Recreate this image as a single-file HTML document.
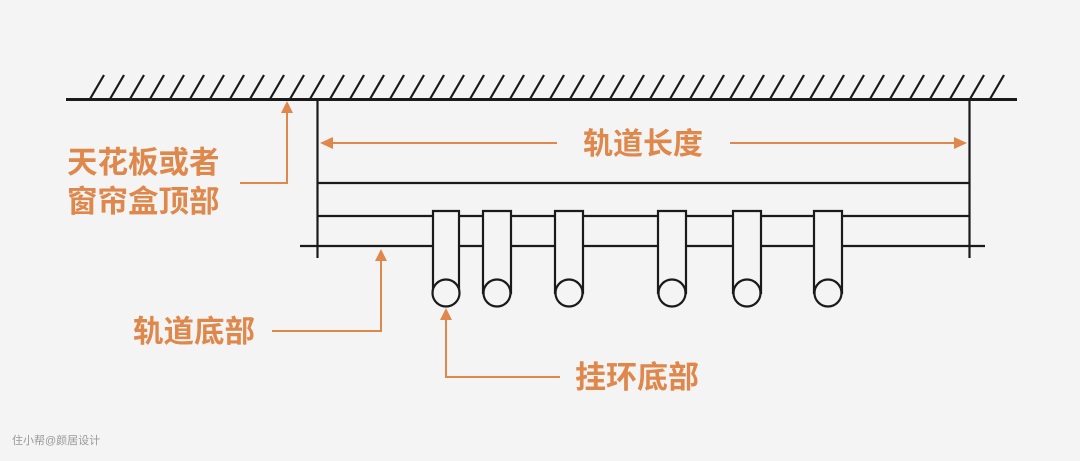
<!DOCTYPE html>
<html><head><meta charset="utf-8"><style>
body{margin:0;background:#f4f4f4;}
svg{display:block}
text{font-family:"Liberation Sans","Noto Sans CJK SC",sans-serif;font-weight:bold;fill:#e0874b}
</style></head><body>
<svg width="1080" height="461" viewBox="0 0 1080 461" xmlns="http://www.w3.org/2000/svg">
<rect width="1080" height="461" fill="#f4f4f4"/>
<g stroke="#1a1a1a" stroke-width="2.2" fill="none">
<line x1="66" y1="99.5" x2="1017" y2="99.5" stroke-width="3"/>
<path d="M90 99 L104 75 M110 99 L124 75 M130 99 L144 75 M150 99 L164 75 M170 99 L184 75 M190 99 L204 75 M210 99 L224 75 M230 99 L244 75 M250 99 L264 75 M270 99 L284 75 M290 99 L304 75 M310 99 L324 75 M330 99 L344 75 M350 99 L364 75 M370 99 L384 75 M390 99 L404 75 M410 99 L424 75 M430 99 L444 75 M450 99 L464 75 M470 99 L484 75 M490 99 L504 75 M510 99 L524 75 M530 99 L544 75 M550 99 L564 75 M570 99 L584 75 M590 99 L604 75 M610 99 L624 75 M630 99 L644 75 M650 99 L664 75 M670 99 L684 75 M690 99 L704 75 M710 99 L724 75 M730 99 L744 75 M750 99 L764 75 M770 99 L784 75 M790 99 L804 75 M810 99 L824 75 M830 99 L844 75 M850 99 L864 75 M870 99 L884 75 M890 99 L904 75 M910 99 L924 75 M930 99 L944 75 M950 99 L964 75 M970 99 L984 75 M990 99 L1004 75"/>
<line x1="317.5" y1="99" x2="317.5" y2="258"/>
<line x1="969.5" y1="99" x2="969.5" y2="258"/>
<line x1="318" y1="183" x2="969" y2="183"/>
<line x1="318" y1="216" x2="969" y2="216"/>
<line x1="300" y1="246" x2="985" y2="246"/>
</g>
<g stroke="#1a1a1a" stroke-width="2.2" fill="#f4f4f4">
<path d="M433 293 V211 H459 V293 Z"/><circle cx="446" cy="293" r="13.5"/>
<path d="M483 293 V211 H511 V293 Z"/><circle cx="497" cy="293" r="13.5"/>
<path d="M555 293 V211 H583 V293 Z"/><circle cx="569" cy="293" r="13.5"/>
<path d="M658 293 V211 H686 V293 Z"/><circle cx="672" cy="293" r="13.5"/>
<path d="M733 293 V211 H761 V293 Z"/><circle cx="747" cy="293" r="13.5"/>
<path d="M814 293 V211 H842 V293 Z"/><circle cx="828" cy="293" r="13.5"/>
</g>
<g stroke="#e0874b" stroke-width="2" fill="none">
<line x1="330" y1="143" x2="557" y2="143"/>
<line x1="730" y1="143" x2="956" y2="143"/>
<polyline points="240,183 287,183 287,112"/>
<polyline points="272,331 381,331 381,260"/>
<polyline points="446,318 446,377 560,377"/>
</g>
<g fill="#e0874b">
<polygon points="320,143 333,137 333,149"/>
<polygon points="967,143 954,137 954,149"/>
<polygon points="287,101 281,113 293,113"/>
<polygon points="381,249 375,261 387,261"/>
<polygon points="446,308 440,320 452,320"/>
</g>
<text x="643" y="154" font-size="30" text-anchor="middle">轨道长度</text>
<text x="67" y="173" font-size="30.5">天花板或者</text>
<text x="67" y="212" font-size="30.5">窗帘盒顶部</text>
<text x="133" y="342" font-size="30.5">轨道底部</text>
<text x="575" y="388" font-size="31">挂环底部</text>
<text x="12" y="444" font-size="11" style="fill:#999;font-weight:normal">住小帮@颜居设计</text>
</svg>
</body></html>
